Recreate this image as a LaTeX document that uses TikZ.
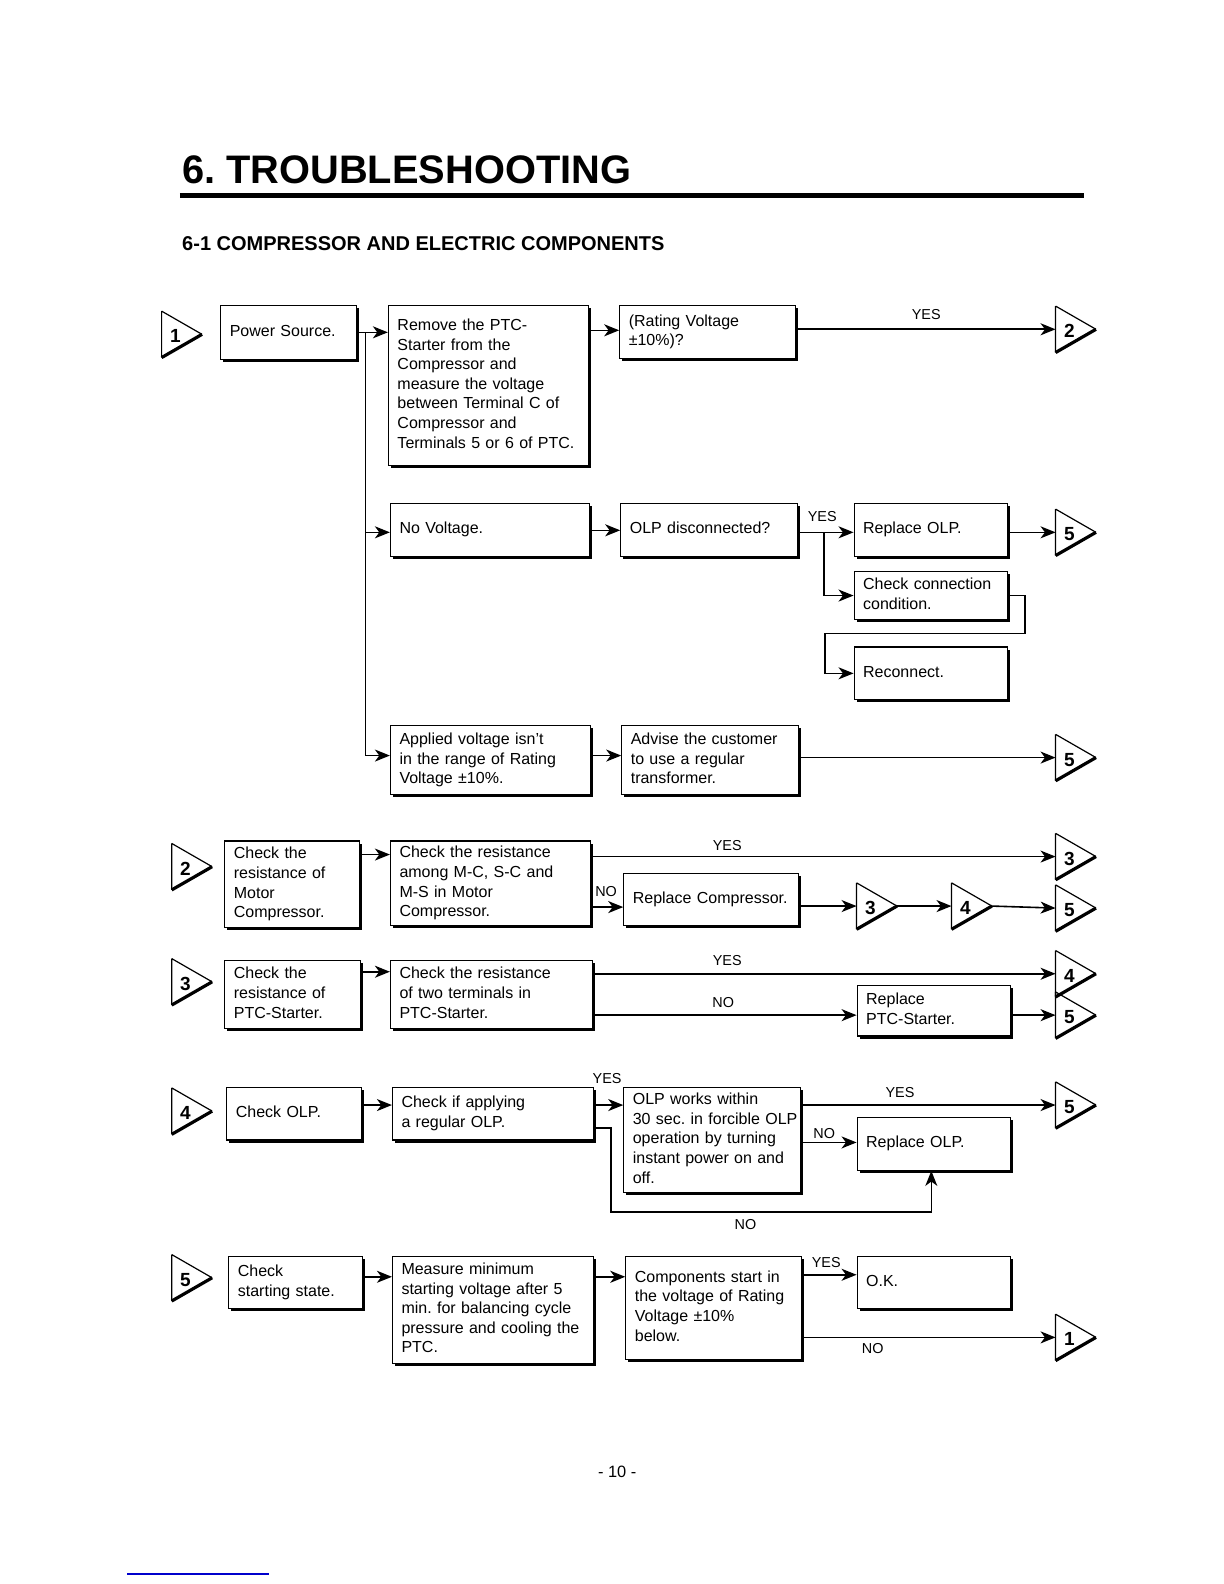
\documentclass[tikz,border=0pt]{standalone}
\usepackage{fontspec}
\setmainfont{Liberation Sans}
\usetikzlibrary{arrows.meta,shadows,calc}
\frenchspacing

\tikzset{
  box/.style={draw, line width=0.6pt, fill=white, anchor=north west, align=left,
    inner xsep=4.5pt, inner ysep=0pt, font=\fontsize{8.0}{9.8}\selectfont,
    drop shadow={shadow xshift=1.3pt, shadow yshift=-1.3pt, opacity=1, fill=black}},
  conn/.style={line width=0.8pt, -{Stealth[length=7.5pt,width=6pt,inset=2.2pt]}},
  wire/.style={line width=0.8pt},
  lbl/.style={font=\fontsize{7.2}{8}\selectfont, inner sep=0pt},
  trinum/.style={font=\fontsize{9.5}{10}\selectfont\bfseries, inner sep=0pt, anchor=west},
  triedge/.style={line width=0.6pt},
  trishadow/.style={line width=1.6pt},
}

% box: name, x1, y1, x2, y2, text
\newcommand\bx[6]{%
  \pgfmathsetmacro\bxw{(#4-#2)*0.50505}%
  \pgfmathsetmacro\bxh{(#5-#3)*0.50505}%
  \pgfmathsetmacro\bxt{(#4-#2)*0.50505-9}%
  \node[box, minimum width=\bxw pt, minimum height=\bxh pt, text width=\bxt pt] (#1) at (#2,#3) {\begin{tabular}{@{}l@{}}#6\end{tabular}};
}
% connector triangle: name, x left, y centre, number
\newcommand\tri[4]{%
  \coordinate (#1) at (#2,#3);
  \draw[triedge] (#2,#3-23) -- (#2+40,#3) (#2,#3-23) -- (#2,#3+23);
  \draw[trishadow] (#2+40,#3) -- (#2,#3+23);
  \node[trinum] (#1-n) at (#2+8,#3+2) {#4};
}

\begin{document}
\begin{tikzpicture}[x=0.50505pt,y=-0.50505pt]
\useasboundingbox (0,0) rectangle (1211.76,1568.16);
\fill[white] (0,0) rectangle (1211.76,1568.16);

% header
\node[anchor=base west, inner sep=0, font=\fontsize{19.9}{22}\selectfont\bfseries] (title) at (180,182) {6. TROUBLESHOOTING};
\draw[line width=2.5pt] (178,194) -- (1073,194);
\node[anchor=base west, inner sep=0, font=\fontsize{10.0}{11}\selectfont\bfseries] (sub) at (180,248) {6-1 COMPRESSOR AND ELECTRIC COMPONENTS};

% ---------------- Row 1
\tri{t1}{160}{331}{1}
\bx{ps}{218}{302}{352}{355}{Power Source.}
\bx{rm}{384}{302}{582}{460}{Remove the PTC-\\Starter from the\\Compressor and\\measure the voltage\\between Terminal C of\\Compressor and\\Terminals 5 or 6 of PTC.}
\bx{rv}{613}{302}{787}{354}{(Rating Voltage\\±10\%)?}
\tri{t2r}{1045}{326}{2}

\coordinate (j1) at (362,329);
\coordinate (j2) at (362,527);
\coordinate (j3) at (362,748);
\draw[wire] (ps.east |- j1) -- (j1) -- (j3);
\draw[conn] (j1) -- (rm.west |- j1);
\draw[conn] (rm.east |- 0,327) -- (rv.west |- 0,327);
\draw[conn] (rv.east |- t2r) -- (t2r);
\node[lbl] (y1) at (917,311) {YES};

\bx{nv}{386}{498}{583}{550}{No Voltage.}
\bx{od}{614}{498}{789}{550}{OLP disconnected?}
\bx{ro1}{845}{498}{997}{550}{Replace OLP.}
\bx{cc}{845}{565}{997}{613}{Check connection\\condition.}
\bx{rc}{845}{640}{997}{692}{Reconnect.}
\tri{t5a}{1045}{527}{5}
\draw[conn] (j2) -- (nv.west |- j2);
\draw[conn] (nv.east |- 0,525) -- (od.west |- 0,525);
\coordinate (j4) at (816,527);
\draw[conn] (od.east |- j4) -- (ro1.west |- j4);
\draw[conn] (j4) |- (cc.west);
\node[lbl] (y2) at (814,511) {YES};
\coordinate (j5) at (1015,627);
\coordinate (j6) at (817,627);
\draw[conn] (cc.east) -| (j5) -- (j6) |- (rc.west);
\draw[conn] (ro1.east |- t5a) -- (t5a);

\bx{av}{386}{718}{584}{786}{Applied voltage isn't\\in the range of Rating\\Voltage ±10\%.}
\bx{ad}{615}{718}{790}{786}{Advise the customer\\to use a regular\\transformer.}
\tri{t5b}{1045}{750}{5}
\draw[conn] (j3) -- (av.west |- j3);
\draw[conn] (av.east |- j3) -- (ad.west |- j3);
\draw[conn] (ad.east |- t5b) -- (t5b);

% ---------------- Row 2
\tri{t2l}{170}{858}{2}
\bx{cr}{222}{832}{355}{918}{Check the\\resistance of\\Motor\\Compressor.}
\bx{cm}{386}{832}{584}{916}{Check the resistance\\among M-C, S-C and\\M-S in Motor\\Compressor.}
\bx{rcmp}{617}{864}{790}{916}{Replace Compressor.}
\tri{t3a}{1045}{848}{3}
\tri{t3b}{848}{897}{3}
\tri{t4b}{942}{897}{4}
\tri{t5c}{1045}{899}{5}
\draw[conn] (cr.east |- 0,846) -- (cm.west |- 0,846);
\draw[conn] (cm.east |- t3a) -- (t3a);
\node[lbl] (y3) at (720,837) {YES};
\draw[conn] (cm.east |- 0,898) -- (rcmp.west |- 0,898);
\node[lbl] (n3) at (600,883) {NO};
\draw[conn] (rcmp.east |- t3b) -- (t3b);
\draw[conn] ($(t3b)+(40,0)$) -- (t4b);
\draw[conn] ($(t4b)+(40,0)$) -- (t5c);

% ---------------- Row 3
\tri{t3l}{170}{972}{3}
\bx{cp}{222}{950}{356}{1018}{Check the\\resistance of\\PTC-Starter.}
\bx{ct}{386}{950}{586}{1018}{Check the resistance\\of two terminals in\\PTC-Starter.}
\bx{rp}{848}{975}{1000}{1025}{Replace\\PTC-Starter.}
\tri{t4c}{1045}{964}{4}
\tri{t5d}{1045}{1005}{5}
\draw[conn] (cp.east |- 0,962) -- (ct.west |- 0,962);
\draw[conn] (ct.east |- t4c) -- (t4c);
\node[lbl] (y4) at (720,951) {YES};
\draw[conn] (ct.east |- t5d) -- (rp.west |- t5d);
\node[lbl] (n4) at (716,993) {NO};
\draw[conn] (rp.east |- t5d) -- (t5d);

% ---------------- Row 4
\tri{t4l}{170}{1100}{4}
\bx{co}{224}{1076}{357}{1128}{Check OLP.}
\bx{ca}{388}{1076}{587}{1128}{Check if applying\\a regular OLP.}
\bx{ow}{617}{1076}{792}{1180}{OLP works within\\30 sec. in forcible OLP\\operation by turning\\instant power on and\\off.}
\bx{ro2}{848}{1106}{1000}{1158}{Replace OLP.}
\tri{t5e}{1045}{1094}{5}
\draw[conn] (co.east |- 0,1094) -- (ca.west |- 0,1094);
\draw[conn] (ca.east |- 0,1094) -- (ow.west |- 0,1094);
\node[lbl] (y5) at (601,1068) {YES};
\coordinate (j7) at (605,1117);
\coordinate (j8) at (605,1200);
\coordinate (j9) at (922,1200);
\draw[conn] (ca.east |- j7) -- (j7) -- (j8) -- (j9) -- (ro2.south -| j9);
\node[lbl] (n5) at (738,1212) {NO};
\draw[conn] (ow.east |- t5e) -- (t5e);
\node[lbl] (y6) at (891,1082) {YES};
\draw[conn] (ow.east |- 0,1131) -- (ro2.west |- 0,1131);
\node[lbl] (n6) at (816,1122) {NO};

% ---------------- Row 5
\tri{t5l}{170}{1265}{5}
\bx{cs}{226}{1243}{358}{1295}{Check\\starting state.}
\bx{mm}{388}{1243}{587}{1349}{Measure minimum\\starting voltage after 5\\min. for balancing cycle\\pressure and cooling the\\PTC.}
\bx{cst}{619}{1243}{793}{1345}{Components start in\\the voltage of Rating\\Voltage ±10\%\\below.}
\bx{ok}{848}{1243}{1000}{1295}{O.K.}
\tri{t1r}{1045}{1324}{1}
\draw[conn] (cs.east |- 0,1264) -- (mm.west |- 0,1264);
\draw[conn] (mm.east |- 0,1264) -- (cst.west |- 0,1264);
\draw[conn] (cst.east |- 0,1262) -- (ok.west |- 0,1262);
\node[lbl] (y7) at (818,1250) {YES};
\draw[conn] (cst.east |- t1r) -- (t1r);
\node[lbl] (n7) at (864,1335) {NO};

% footer
\node[inner sep=0, font=\fontsize{8.2}{9.8}\selectfont] (pg) at (611,1457) {- 10 -};
\draw[blue!80!black, line width=1pt] (126,1558) -- (266,1558);
\end{tikzpicture}
\end{document}
